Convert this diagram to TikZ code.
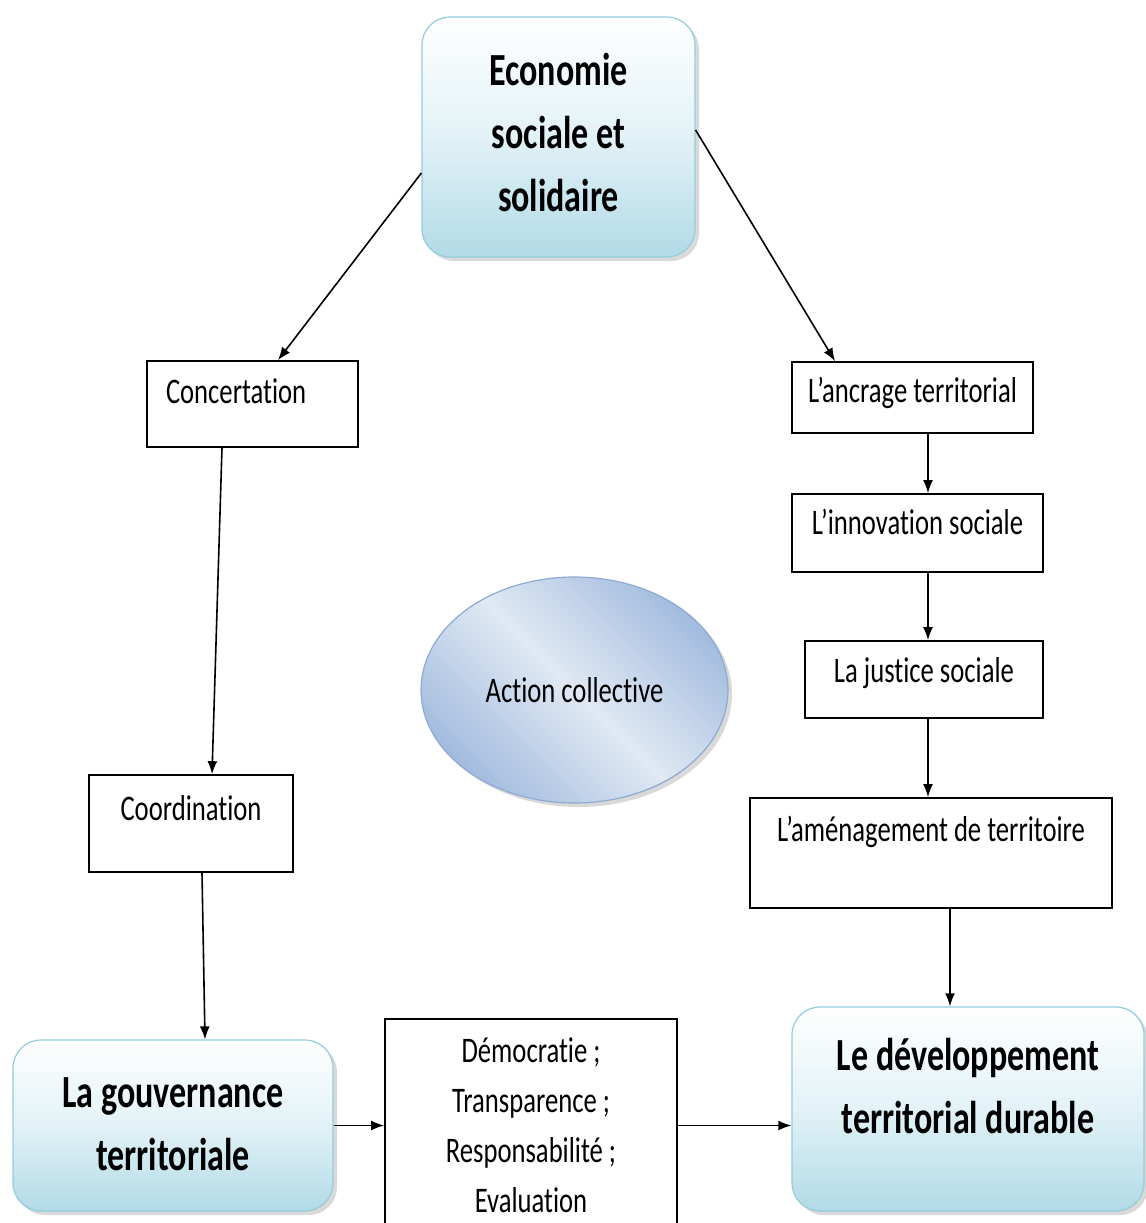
\documentclass[tikz,border=0pt]{standalone}
\usepackage{fontspec}
\setmainfont{Carlito}[FakeStretch=0.74,Ligatures=NoCommon]
\usepackage{tikz}
\usetikzlibrary{arrows,arrows.meta,calc,shadows,shapes.geometric}
\definecolor{boxline}{RGB}{147,205,221}
\definecolor{boxbot}{RGB}{178,218,231}
\definecolor{boxmid}{RGB}{226,242,247}
\definecolor{elldark}{RGB}{163,188,222}
\definecolor{elllight}{RGB}{224,233,244}
\definecolor{elledge}{RGB}{140,170,210}
\newcommand{\bigfont}{\fontsize{23}{31.5}\selectfont\bfseries}
\newcommand{\smallfont}{\fontsize{18}{25}\selectfont}

\begin{document}
\begin{tikzpicture}[x=0.5pt,y=-0.5pt,
  textbox/.style={draw,line width=0.85pt,inner sep=0pt,font=\smallfont},
  bluebox/.style={draw=boxline,line width=0.6pt,rounded corners=14pt,inner sep=0pt,
    top color=white,bottom color=boxbot,middle color=boxmid,font=\bigfont,
    drop shadow={shadow xshift=2pt,shadow yshift=-2pt,opacity=0.3}},
  arr/.style={-{Latex[length=6.5pt,width=5pt]},line width=0.8pt}]
\useasboundingbox (0,0) rectangle (1146,1223);

% les trois grands blocs
\node[bluebox,minimum width=136.5pt,text height=34pt,text depth=86pt] (eco) at (558.5,137)
  {\begin{tabular}[t]{@{}c@{}}Economie\\sociale et\\solidaire\end{tabular}};
\node[bluebox,minimum width=160pt,text height=33.5pt,text depth=52pt] (gouv) at (173,1125.5)
  {\begin{tabular}[t]{@{}c@{}}La gouvernance\\territoriale\end{tabular}};
\node[bluebox,minimum width=176pt,text height=31.5pt,text depth=70.5pt] (dev) at (968,1109)
  {\begin{tabular}[t]{@{}c@{}}Le développement\\territorial durable\end{tabular}};

% cote gauche
\node[textbox,text width=86.5pt,inner xsep=9.5pt,align=left,text height=21pt,text depth=22pt] (conc) at (252.5,404) {Concertation};
\node[textbox,minimum width=102pt,text height=22.5pt,text depth=26pt] (coord) at (191,823.5) {Coordination};

% cote droit
\node[textbox,minimum width=120.5pt,text height=20pt,text depth=15.5pt] (anc) at (912.5,397.5) {L’ancrage territorial};
\node[textbox,minimum width=125.5pt,text height=20pt,text depth=19pt] (inno) at (917.5,533) {L’innovation sociale};
\node[textbox,minimum width=119pt,text height=20.5pt,text depth=18pt] (just) at (924,679.5) {La justice sociale};
\node[textbox,minimum width=181pt,text height=21.5pt,text depth=33.5pt] (amen) at (931,853) {L’aménagement de territoire};

\node[textbox,minimum width=146pt,text height=21.5pt,text depth=89pt] (demo) at (531,1129.5)
  {\begin{tabular}[t]{@{}c@{}}Démocratie ;\\Transparence ;\\Responsabilité ;\\Evaluation\end{tabular}};

\node[ellipse,draw=elledge,line width=0.6pt,inner sep=0pt,minimum width=153.5pt,minimum height=113pt,
  top color=elldark,bottom color=elldark,middle color=elllight,shading angle=-45,font=\smallfont,
  drop shadow={shadow xshift=2pt,shadow yshift=-2pt,opacity=0.3}] (act) at (574.5,690) {Action collective};

% fleches
\draw[arr] ($(eco.west)+(0,36)$) -- ($(conc.north)+(25.5,0)$);
\draw[arr] ($(eco.east)+(0,-7)$) -- ($(anc.north)+(-77.5,0)$);
\draw[arr] ($(conc.south)+(-30.5,0)$) -- ($(coord.north)+(21,0)$);
\draw[arr] ($(coord.south)+(11,0)$) -- ($(gouv.north)+(32,0)$);
\coordinate (spine) at (928,0);
\foreach \a/\b in {anc/inno,inno/just,just/amen}
  \draw[arr] (\a.south -| spine) -- (\b.north -| spine);
\draw[arr] ($(amen.south)+(19,0)$) coordinate (c) -- (c |- dev.north);
\draw[arr] (gouv.east) -- (gouv.east -| demo.west);
\draw[arr] (gouv.east -| demo.east) -- (gouv.east -| dev.west);
\end{tikzpicture}
\end{document}
